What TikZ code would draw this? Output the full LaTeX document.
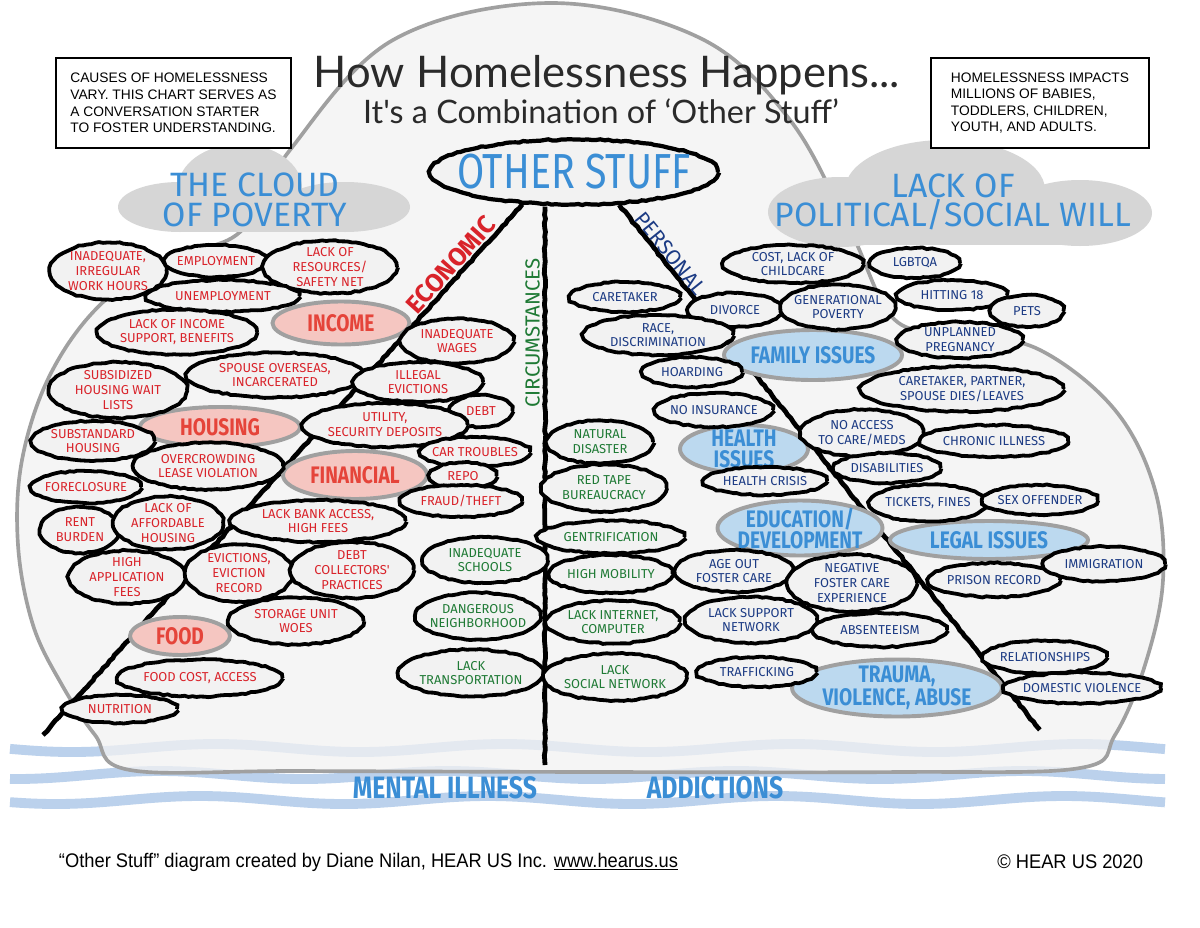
\documentclass[tikz,border=0pt]{standalone}
\usepackage{fontspec}
\setmainfont{Liberation Sans}
\newfontfamily\handfont{Fira Sans}
\newfontfamily\brushfont[FakeStretch=0.8]{Fira Sans}
\newfontfamily\titlefont{Lato}
\newfontfamily\footfont[FakeStretch=0.93]{Liberation Sans}
\usepackage{xcolor}
\usetikzlibrary{shapes.geometric,decorations.pathmorphing,calc}
\definecolor{paper}{HTML}{F2F2F2}
\definecolor{rim}{HTML}{A0A0A0}
\definecolor{foggray}{HTML}{D6D6D6}
\definecolor{ecored}{HTML}{D9232A}
\definecolor{catred}{HTML}{E5443A}
\definecolor{pinkfill}{HTML}{F5C6C1}
\definecolor{circgreen}{HTML}{1F7A35}
\definecolor{persblue}{HTML}{1C3B84}
\definecolor{catblue}{HTML}{3B8ED5}
\definecolor{bluefill}{HTML}{BCD9EF}
\definecolor{wavecol}{HTML}{BBD1EC}
\definecolor{ink}{HTML}{2A2A2A}

\def\ovals{iwh/108/271/117/57/ecored/{INADEQUATE,\\IRREGULAR\\WORK HOURS},
emp/216/261/102/32/ecored/{EMPLOYMENT},
res/330/267/134/53/ecored/{LACK OF\\RESOURCES/\\SAFETY NET},
unemp/223/296/153/32/ecored/{UNEMPLOYMENT},
lis/177/332/160/45/ecored/{LACK OF INCOME\\SUPPORT, BENEFITS},
wag/457/341/113/45/ecored/{INADEQUATE\\WAGES},
spo/275/375/176/45/ecored/{SPOUSE OVERSEAS,\\INCARCERATED},
sub/118/390/138/56/ecored/{SUBSIDIZED\\HOUSING WAIT\\LISTS},
ill/418/382/130/40/ecored/{ILLEGAL\\EVICTIONS},
debt/481/411/63/32/ecored/{DEBT},
uti/385/425/165/44/ecored/{UTILITY,\\SECURITY DEPOSITS},
sta/93/441/123/40/ecored/{SUBSTANDARD\\HOUSING},
ovr/208/466/150/47/ecored/{OVERCROWDING\\LEASE VIOLATION},
car/475/452/110/30/ecored/{CAR TROUBLES},
repo/463/476/67/27/ecored/{REPO},
frc/86/487/110/32/ecored/{FORECLOSURE},
frd/461/501/122/32/ecored/{FRAUD/THEFT},
rent/80/530/80/46/ecored/{RENT\\BURDEN},
aff/168/523/110/53/ecored/{LACK OF\\AFFORDABLE\\HOUSING},
bank/318/521/175/42/ecored/{LACK BANK ACCESS,\\HIGH FEES},
app/127/577/117/53/ecored/{HIGH\\APPLICATION\\FEES},
evi/239/573/108/57/ecored/{EVICTIONS,\\EVICTION\\RECORD},
dcol/352/570/123/56/ecored/{DEBT\\COLLECTORS'\\PRACTICES},
sto/296/621/135/47/ecored/{STORAGE UNIT\\WOES},
fca/200/678/165/37/ecored/{FOOD COST, ACCESS},
nut/120/709/114/28/ecored/{NUTRITION},
sch/485/560/125/46/circgreen/{INADEQUATE\\SCHOOLS},
dng/478/616/125/47/circgreen/{DANGEROUS\\NEIGHBORHOOD},
trn/471/673/145/47/circgreen/{LACK\\TRANSPORTATION},
nat/600/442/106/43/circgreen/{NATURAL\\DISASTER},
tape/604/488/125/47/circgreen/{RED TAPE\\BUREAUCRACY},
gen/611/537/147/33/circgreen/{GENTRIFICATION},
mob/611/574/123/38/circgreen/{HIGH MOBILITY},
net/613/622/133/43/circgreen/{LACK INTERNET,\\COMPUTER},
soc/615/677/143/47/circgreen/{LACK\\SOCIAL NETWORK},
chc/793/264/140/38/persblue/{COST, LACK OF\\CHILDCARE},
lgb/915/263/90/30/persblue/{LGBTQA},
ctk/625/297/110/30/persblue/{CARETAKER},
div/735/310/95/34/persblue/{DIVORCE},
gpv/838/307/115/45/persblue/{GENERATIONAL\\POVERTY},
hit/952/295/110/30/persblue/{HITTING 18},
pets/1027/311/73/32/persblue/{PETS},
race/658/335/150/40/persblue/{RACE,\\DISCRIMINATION},
unp/960/340/125/36/persblue/{UNPLANNED\\PREGNANCY},
hrd/692/372/100/30/persblue/{HOARDING},
ctp/962/389/203/45/persblue/{CARETAKER, PARTNER,\\SPOUSE DIES/LEAVES},
ins/714/410/118/34/persblue/{NO INSURANCE},
acc/862/433/123/47/persblue/{NO ACCESS\\TO CARE/MEDS},
chr/994/441/148/32/persblue/{CHRONIC ILLNESS},
dis/887/468/107/30/persblue/{DISABILITIES},
hcr/765/481/124/28/persblue/{HEALTH CRISIS},
tik/928/503/117/37/persblue/{TICKETS, FINES},
sex/1040/500/115/30/persblue/{SEX OFFENDER},
age/734/571/118/42/persblue/{AGE OUT\\FOSTER CARE},
neg/852/583/130/57/persblue/{NEGATIVE\\FOSTER CARE\\EXPERIENCE},
pri/994/580/132/34/persblue/{PRISON RECORD},
imm/1104/564/122/35/persblue/{IMMIGRATION},
sup/751/620/132/46/persblue/{LACK SUPPORT\\NETWORK},
abs/880/630/134/34/persblue/{ABSENTEEISM},
trf/757/672/119/30/persblue/{TRAFFICKING},
rel/1045/657/124/33/persblue/{RELATIONSHIPS},
dom/1082/688/157/31/persblue/{DOMESTIC VIOLENCE}}

\def\cats{inc/341/323/137/43/pinkfill/catred/{INCOME},
hou/220/427/160/40/pinkfill/catred/{HOUSING},
fin/355/475/144/48/pinkfill/catred/{FINANCIAL},
food/180/636/100/38/pinkfill/catred/{FOOD},
fam/813/355/178/50/bluefill/catblue/{FAMILY ISSUES},
hlt/744/449/128/48/bluefill/catblue/{HEALTH\\ISSUES},
edu/800/528/165/55/bluefill/catblue/{EDUCATION/\\DEVELOPMENT},
leg/989/540/198/38/bluefill/catblue/{LEGAL ISSUES},
trm/897/688/210/57/bluefill/catblue/{TRAUMA,\\VIOLENCE, ABUSE}}

\begin{document}
\begin{tikzpicture}[x=0.025cm,y=-0.025cm,
	sz/.style 2 args={minimum width=#1*0.025cm,minimum height=#2*0.025cm},
	rough/.style={decorate,decoration={random steps,segment length=3pt,amplitude=0.5pt}},
	oval/.style={ellipse,draw=black,line width=2.7pt,fill=paper,inner sep=0pt,rough},
	ovaltxt/.style={font=\handfont\fontsize{9.2}{10.6}\selectfont,align=center,inner sep=0pt},
	catoval/.style={ellipse,draw=rim,line width=2.8pt,inner sep=0pt},
	cattxt/.style={font=\brushfont\bfseries\fontsize{17}{15}\selectfont,align=center,inner sep=0pt},
	fogfill/.style={fill=foggray},
	cloudtxt/.style={text=catblue,font=\handfont\fontsize{24}{21}\selectfont,align=center},
	branch/.style={line width=3.4pt,rough},
	branchtxt/.style={font=\handfont\fontsize{15}{15}\selectfont,inner sep=3pt,anchor=south},
	waveband/.style={draw=wavecol,line width=7pt},
	infobox/.style={draw,line width=1.4pt,fill=white,align=left,inner sep=0pt,anchor=north west,font=\fontsize{9.8}{11.8}\selectfont}]
	\fill[white](0,0) rectangle (1200,927);
	\useasboundingbox (0,0) rectangle (1200,927);
	\foreach \yy/\ph in {748/0,775/70,800/20}
		\draw[waveband] plot[variable=\t,domain=10:1165,samples=90,smooth] (\t,{\yy+4*sin(1.25*\t+\ph)});
	\draw[fill=paper,fill opacity=0.75,draw=rim,line width=2.6pt] plot[smooth cycle,tension=0.6] coordinates {(550,3) (700,38) (790,120) (850,230) (895,320) (960,332) (1040,350) (1115,410) (1155,490) (1163,580) (1145,665) (1115,735) (1080,768) (900,772) (600,772) (300,771) (130,770) (95,735) (62,685) (33,625) (18,545) (22,460) (50,375) (100,305) (170,258) (240,232) (290,150) (393,40)};
	\fill[fogfill](240,188) ellipse (62 and 44);
	\fill[fogfill](180,207) ellipse (62 and 25);
	\fill[fogfill](345,207) ellipse (65 and 25);
	\fill[fogfill](180,207) rectangle (345,232);
	\fill[fogfill](945,190) ellipse (100 and 50);
	\fill[fogfill](840,212) ellipse (72 and 35);
	\fill[fogfill](1080,213) ellipse (72 and 33);
	\fill[fogfill](840,212) rectangle (1080,245);
	\node[cloudtxt] (poverty) at (255,200) {THE CLOUD\\OF POVERTY};
	\node[cloudtxt] (will) at (953,202) {LACK OF\\POLITICAL/SOCIAL WILL};
	\node[infobox,sz={235}{90}] (leftbox) at (55,57) {CAUSES OF HOMELESSNESS\\VARY. THIS CHART SERVES AS\\A CONVERSATION STARTER\\TO FOSTER UNDERSTANDING.};
	\node[infobox,sz={218}{90}] (rightbox) at (930,57) {HOMELESSNESS IMPACTS\\MILLIONS OF BABIES,\\TODDLERS, CHILDREN,\\YOUTH, AND ADULTS.};
	\node[text=ink,font=\titlefont\fontsize{31}{31}\selectfont] (title) at (607,75) {How Homelessness Happens...};
	\node[text=ink,font=\titlefont\fontsize{23}{23}\selectfont] (subtitle) at (601,111) {It's a Combination of ‘Other Stuff’};
	\node[oval,sz={288}{65},line width=3pt] (stuff) at (574,172) {};
	\node[text=catblue,font=\brushfont\fontsize{35}{35}\selectfont] (stuff-t) at (stuff) {OTHER STUFF};
	\coordinate (ecoend) at (43,735);
	\coordinate (circend) at (545,765);
	\coordinate (persend) at (1040,730);
	\draw[branch](stuff.212)--(ecoend);
	\draw[branch](stuff.south -| circend)--(circend);
	\draw[branch](stuff.324)--(persend);
	\node[branchtxt,text=ecored,font=\handfont\bfseries\fontsize{18}{18}\selectfont,rotate=48] (ecolab) at (461,274) {ECONOMIC};
	\node[branchtxt,text=circgreen,font=\handfont\fontsize{14.5}{14.5}\selectfont,rotate=90,inner sep=2pt] (circlab) at (543,333) {CIRCUMSTANCES};
	\node[branchtxt,text=persblue,rotate=-51] (perslab) at (661,261) {PERSONAL};
	\foreach \nm/\x/\y/\w/\h/\fc/\tc/\txt in \cats{
		\node[catoval,sz={\w}{\h},fill=\fc] (\nm) at (\x,\y) {};
		\node[cattxt,text=\tc] (\nm-t) at (\nm) {\txt};}
	\foreach \nm/\x/\y/\w/\h/\col/\txt in \ovals
		\node[oval,sz={\w}{\h}] (\nm) at (\x,\y) {};
	\foreach \nm/\x/\y/\w/\h/\col/\txt in \ovals
		\node[ovaltxt,text=\col] (\nm-t) at (\nm) {\txt};
	\node[text=catblue,font=\brushfont\bfseries\fontsize{22}{22}\selectfont] (mental) at (445,788) {MENTAL ILLNESS};
	\node[text=catblue,font=\brushfont\bfseries\fontsize{22}{22}\selectfont] (addict) at (715,788) {ADDICTIONS};
	\node[anchor=west,font=\footfont\fontsize{14}{14}\selectfont] (credit) at (54,862) {“Other Stuff” diagram created by Diane Nilan, HEAR US Inc. \underline{www.hearus.us}};
	\node[anchor=east,font=\footfont\fontsize{14}{14}\selectfont] (copy) at (1148,862) {© HEAR US 2020};
\end{tikzpicture}
\end{document}
